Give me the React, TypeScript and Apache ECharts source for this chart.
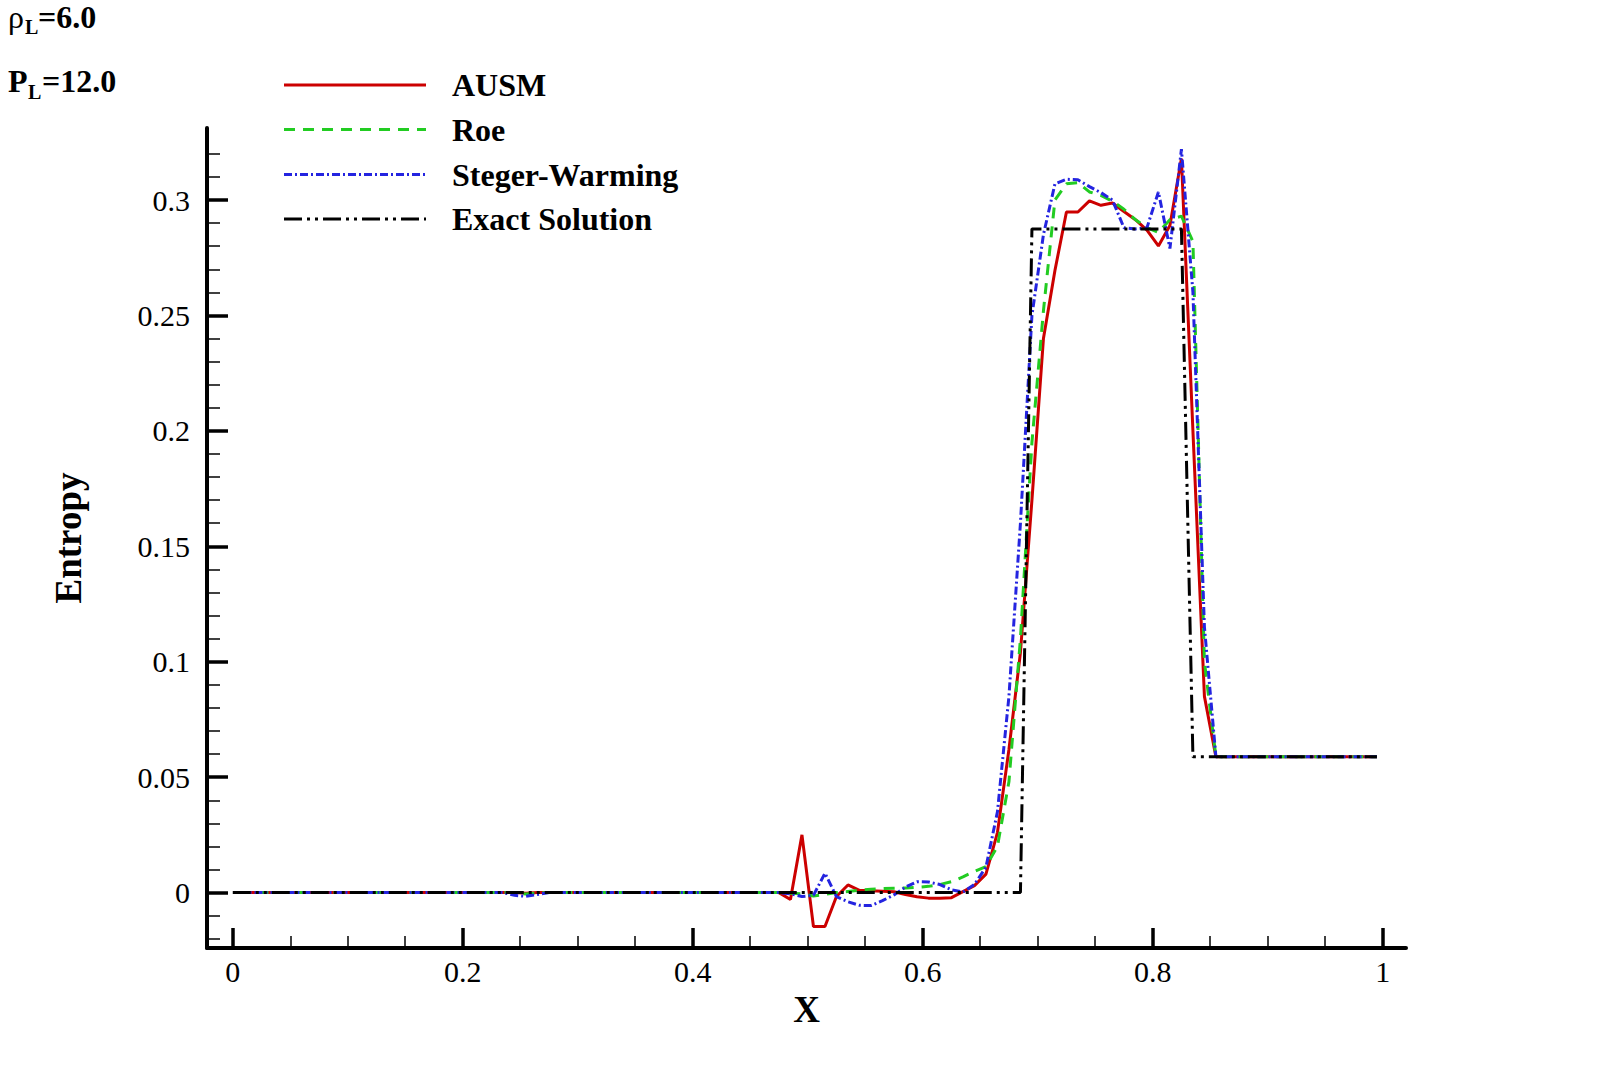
import React, { useEffect, useRef } from "react";
import * as echarts from "echarts";

// shared x positions (cell centres) of the numerical solutions
const X_NUM = [
  0.005, 0.235, 0.245, 0.255, 0.265, 0.275,
  0.475, 0.485, 0.495, 0.505, 0.515, 0.525, 0.535, 0.545, 0.555, 0.565,
  0.575, 0.585, 0.595, 0.605, 0.615, 0.625, 0.635, 0.645, 0.655, 0.665,
  0.675, 0.685, 0.695, 0.705, 0.715, 0.725, 0.735, 0.745, 0.755, 0.765,
  0.775, 0.785, 0.795, 0.805, 0.815, 0.825, 0.835, 0.845, 0.855,
  0.995,
];

const AUSM = [
  0, 0, 0, -0.0003, 0, 0,
  0, -0.003, 0.025, -0.0147, -0.0147, -0.0017, 0.0033, 0.001, 0.0008, 0.0006,
  0.0004, -0.0008, -0.0018, -0.0024, -0.0024, -0.0022, 0.0004, 0.003, 0.008, 0.026,
  0.062, 0.104, 0.17, 0.24, 0.2695, 0.2948, 0.2948, 0.2996, 0.2977, 0.2987,
  0.295, 0.2915, 0.287, 0.2801, 0.289, 0.318, 0.2, 0.085, 0.0588,
  0.0588,
];

const ROE = [
  0, 0, 0, -0.0006, -0.0002, 0,
  0, -0.0003, -0.0005, -0.0015, -0.0008, 0, 0.0005, 0.001, 0.0015, 0.0017,
  0.0019, 0.002, 0.0023, 0.0027, 0.0035, 0.0047, 0.0068, 0.0092, 0.0113, 0.02,
  0.048, 0.11, 0.195, 0.252, 0.3, 0.307, 0.3075, 0.3035, 0.302, 0.2995,
  0.296, 0.2915, 0.288, 0.286, 0.2915, 0.293, 0.282, 0.1, 0.0588,
  0.0588,
];

const STEGER_WARMING = [
  0, 0, -0.0012, -0.0016, -0.0008, 0,
  0, -0.0005, -0.0017, -0.0012, 0.0084, -0.0017, -0.004, -0.0055, -0.0056, -0.0035,
  -0.001, 0.0024, 0.0047, 0.0046, 0.0035, 0.0012, 0.0002, 0.0035, 0.011, 0.035,
  0.085, 0.16, 0.25, 0.285, 0.307, 0.309, 0.3088, 0.3058, 0.3032, 0.3,
  0.288, 0.2875, 0.288, 0.3035, 0.279, 0.322, 0.26, 0.115, 0.0588,
  0.0588,
];

const X_EXACT = [0, 0.685, 0.695, 0.825, 0.835, 0.995];
const EXACT = [0, 0, 0.2875, 0.2875, 0.0588, 0.0588];

const X_MAJOR = [0, 0.2, 0.4, 0.6, 0.8, 1];
const X_MINOR = [0.05, 0.1, 0.15, 0.25, 0.3, 0.35, 0.45, 0.5, 0.55, 0.65, 0.7, 0.75, 0.85, 0.9, 0.95];
const Y_MAJOR = [0, 0.05, 0.1, 0.15, 0.2, 0.25, 0.3];
const Y_MINOR = [
  -0.02, -0.01, 0.01, 0.02, 0.03, 0.04, 0.06, 0.07, 0.08, 0.09, 0.11, 0.12, 0.13, 0.14,
  0.16, 0.17, 0.18, 0.19, 0.21, 0.22, 0.23, 0.24, 0.26, 0.27, 0.28, 0.29, 0.31, 0.32,
];

const NAMES = ["AUSM", "Roe", "Steger-Warming", "Exact Solution"];
const COLORS = ["#cc0000", "#22cc22", "#2424e0", "#000000"];
const DASHES: (number[] | "solid")[] = ["solid", [11, 8], [8, 3, 2, 3], [18, 5, 3, 5, 3, 5]];
const WIDTHS = [3, 3, 3, 3];

const SERIF = "Liberation Serif";

export default function App() {
  const ref = useRef<HTMLDivElement>(null);

  useEffect(() => {
    if (!ref.current) return;
    const chart = echarts.init(ref.current, undefined, { renderer: "svg" });

    const pair = (xs: number[], ys: number[]) => xs.map((x, i) => [x, ys[i]]);
    const seriesData = [
      pair(X_NUM, AUSM),
      pair(X_NUM, ROE),
      pair(X_NUM, STEGER_WARMING),
      pair(X_EXACT, EXACT),
    ];

    const legendX1 = 284;
    const legendX2 = 426;
    const legendTextX = 452;
    const legendRows = [85, 129.5, 174.5, 219];

    const graphic: any[] = [];
    NAMES.forEach((name, i) => {
      const dash = DASHES[i];
      graphic.push({
        type: "line",
        shape: { x1: legendX1, y1: legendRows[i], x2: legendX2, y2: legendRows[i] },
        style: {
          stroke: COLORS[i],
          lineWidth: WIDTHS[i],
          lineDash: dash === "solid" ? null : dash,
        },
      });
      graphic.push({
        type: "text",
        x: legendTextX,
        y: legendRows[i],
        style: {
          text: name,
          font: `bold 32px ${SERIF}`,
          fill: "#000",
          align: "left",
          verticalAlign: "middle",
        },
      });
    });

    // top-left annotations
    const ann = (text: string, x: number, y: number, font: string) => ({
      type: "text",
      x,
      y,
      style: { text, font, fill: "#000", align: "left", verticalAlign: "middle" },
    });
    graphic.push(ann("ρ", 8, 16.5, `32px ${SERIF}`));
    graphic.push(ann("L", 25, 27, `bold 20px ${SERIF}`));
    graphic.push(ann("=6.0", 38, 16.5, `bold 32px ${SERIF}`));
    graphic.push(ann("P", 8, 80.5, `bold 32px ${SERIF}`));
    graphic.push(ann("L", 28, 91.5, `bold 20px ${SERIF}`));
    graphic.push(ann("=12.0", 42, 80.5, `bold 32px ${SERIF}`));

    const X_MIN = -0.0224;
    const X_MAX = 1.0203;
    const Y_MIN = -0.024;
    const Y_MAX = 0.3312;

    chart.setOption({
      animation: false,
      backgroundColor: "#ffffff",
      grid: { left: 207, top: 128, width: 1199, height: 820, containLabel: false },
      xAxis: [
        {
          type: "value",
          min: X_MIN,
          max: X_MAX,
          position: "bottom",
          name: "X",
          nameLocation: "middle",
          nameGap: 27,
          nameTextStyle: { fontFamily: SERIF, fontWeight: "bold", fontSize: 37, color: "#000" },
          axisLine: { show: true, onZero: false, lineStyle: { color: "#000", width: 4 } },
          axisTick: {
            show: true,
            inside: true,
            length: 20,
            lineStyle: { color: "#000", width: 3.5 },
            customValues: X_MAJOR,
          },
          axisLabel: {
            show: true,
            customValues: X_MAJOR,
            margin: 8,
            fontFamily: SERIF,
            fontSize: 30,
            color: "#000",
            formatter: (v: number) => String(v),
          },
          splitLine: { show: false },
        },
        {
          type: "value",
          min: X_MIN,
          max: X_MAX,
          position: "bottom",
          axisLine: { show: false, onZero: false },
          axisTick: {
            show: true,
            inside: true,
            length: 12,
            lineStyle: { color: "#000", width: 1.5 },
            customValues: X_MINOR,
          },
          axisLabel: { show: false },
          splitLine: { show: false },
        },
      ],
      yAxis: [
        {
          type: "value",
          min: Y_MIN,
          max: Y_MAX,
          position: "left",
          name: "Entropy",
          nameLocation: "middle",
          nameGap: 120,
          nameTextStyle: { fontFamily: SERIF, fontWeight: "bold", fontSize: 37, color: "#000" },
          axisLine: { show: true, onZero: false, lineStyle: { color: "#000", width: 4 } },
          axisTick: {
            show: true,
            inside: true,
            length: 21,
            lineStyle: { color: "#000", width: 3.5 },
            customValues: Y_MAJOR,
          },
          axisLabel: {
            show: true,
            customValues: Y_MAJOR,
            margin: 17,
            fontFamily: SERIF,
            fontSize: 30,
            color: "#000",
            formatter: (v: number) => String(v),
          },
          splitLine: { show: false },
        },
        {
          type: "value",
          min: Y_MIN,
          max: Y_MAX,
          position: "left",
          axisLine: { show: false, onZero: false },
          axisTick: {
            show: true,
            inside: true,
            length: 13,
            lineStyle: { color: "#000", width: 1.5 },
            customValues: Y_MINOR,
          },
          axisLabel: { show: false },
          splitLine: { show: false },
        },
      ],
      series: NAMES.map((name, i) => ({
        name,
        type: "line",
        xAxisIndex: 0,
        yAxisIndex: 0,
        data: seriesData[i],
        showSymbol: false,
        symbol: "none",
        z: 2 + i,
        lineStyle: { color: COLORS[i], width: WIDTHS[i], type: DASHES[i] },
      })),
      graphic,
    });

    return () => chart.dispose();
  }, []);

  return (
    <div
      ref={ref}
      style={{ position: "absolute", left: 0, top: 0, width: 1600, height: 1066, background: "#fff" }}
    />
  );
}
